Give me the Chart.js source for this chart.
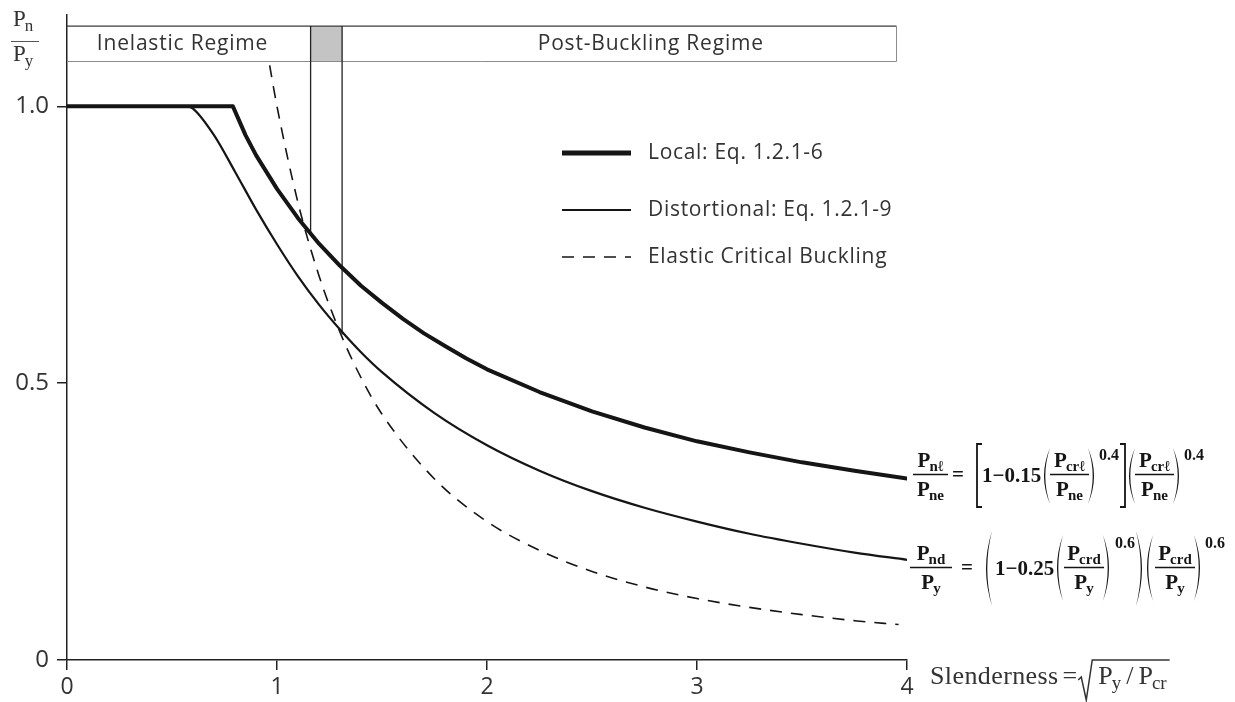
<!DOCTYPE html>
<html>
<head>
<meta charset="utf-8">
<script src="https://cdn.jsdelivr.net/npm/chart.js@4"></script>
<style>
  html, body { margin: 0; padding: 0; background: #fff; }
  #wrap { width: 1235px; height: 702px; }
</style>
</head>
<body>
<div id="wrap"><canvas id="chart" width="1235" height="702"></canvas></div>
<script>
// slenderness (x) and normalised strength Pn/Py (y)
const localX = [0, 0.79, 0.85, 0.9, 1.0, 1.1, 1.2, 1.3, 1.4, 1.5, 1.6, 1.7, 1.8, 1.9, 2.0, 2.25, 2.5, 2.75, 3.0, 3.25, 3.5, 3.75, 4.0];
const localY = [1.0, 1.0, 0.948, 0.912, 0.851, 0.798, 0.752, 0.712, 0.676, 0.645, 0.616, 0.590, 0.567, 0.545, 0.525, 0.484, 0.449, 0.420, 0.395, 0.375, 0.357, 0.342, 0.328];

const distX = [0, 0.57, 0.6, 0.7, 0.8, 0.9, 1.0, 1.1, 1.2, 1.3, 1.4, 1.5, 1.75, 2.0, 2.25, 2.5, 2.75, 3.0, 3.25, 3.5, 3.75, 4.0];
const distY = [1.0, 1.0, 0.996, 0.948, 0.882, 0.814, 0.751, 0.693, 0.642, 0.597, 0.556, 0.520, 0.446, 0.388, 0.342, 0.305, 0.275, 0.250, 0.228, 0.210, 0.194, 0.181];

const elasticX = [0.965, 1.0, 1.1, 1.2, 1.3, 1.4, 1.5, 1.75, 2.0, 2.25, 2.5, 2.75, 3.0, 3.25, 3.5, 3.75, 3.96];
const elasticY = [1.074, 1.0, 0.826, 0.694, 0.592, 0.510, 0.444, 0.327, 0.250, 0.198, 0.160, 0.132, 0.111, 0.095, 0.082, 0.071, 0.064];

// regime band across the top and the shaded transition zone
const regimeBandY = [1.081, 1.145];
const regimeBandEndX = 3.95;
const transitionX = [1.16, 1.31];
const transitionEndY = [0.768, 0.588];
const regimeLabels = ['Inelastic Regime', 'Post-Buckling Regime'];
const regimeLabelX = [0.55, 2.78];

const xTickValues = [0, 1, 2, 3, 4];
const yTickValues = [0, 0.5, 1.0];
const yTickLabels = ['0', '0.5', '1.0'];

const seriesLabels = ['Local: Eq. 1.2.1-6', 'Distortional: Eq. 1.2.1-9', 'Elastic Critical Buckling'];

const SANS = '"Open Sans", "Liberation Sans", sans-serif';
const SERIF = '"Liberation Serif", "DejaVu Serif", serif';
const INK = '#151515';
const TEXT = '#333333';

const pts = (xs, ys) => xs.map((x, i) => ({ x, y: ys[i] }));

// ---------- small text/maths helpers ----------
function pSub(ctx, x, base, sub, size, subSize, weight) {
  ctx.font = `${weight} ${size}px ${SERIF}`;
  ctx.fillText('P', x, base);
  const wp = ctx.measureText('P').width;
  ctx.font = `${weight} ${subSize}px ${SERIF}`;
  ctx.fillText(sub, x + wp - 1, base + size * 0.2);
  return wp - 1 + ctx.measureText(sub).width;
}

function pSubWidth(ctx, sub, size, subSize, weight) {
  ctx.font = `${weight} ${size}px ${SERIF}`;
  const wp = ctx.measureText('P').width;
  ctx.font = `${weight} ${subSize}px ${SERIF}`;
  return wp - 1 + ctx.measureText(sub).width;
}

function fraction(ctx, x0, x1, barY, numSub, denSub) {
  const cx = (x0 + x1) / 2;
  const wn = pSubWidth(ctx, numSub, 21, 15, 'bold');
  const wd = pSubWidth(ctx, denSub, 21, 15, 'bold');
  pSub(ctx, cx - wn / 2, barY - 7, numSub, 21, 15, 'bold');
  pSub(ctx, cx - wd / 2, barY + 22, denSub, 21, 15, 'bold');
  ctx.save();
  ctx.lineWidth = 1.4;
  ctx.beginPath();
  ctx.moveTo(x0, barY + 0.5);
  ctx.lineTo(x1, barY + 0.5);
  ctx.stroke();
  ctx.restore();
}

// curved parenthesis, dir = 1 opens right "(", dir = -1 closes ")"
function paren(ctx, x, top, bot, dir) {
  const w = 6, mid = (top + bot) / 2;
  ctx.beginPath();
  ctx.moveTo(x + dir * w, top);
  ctx.quadraticCurveTo(x - dir * w, mid, x + dir * w, bot);
  ctx.quadraticCurveTo(x - dir * (w - 2.6), mid, x + dir * w, top);
  ctx.fill();
}

function bracket(ctx, x, top, bot, dir) {
  ctx.save();
  ctx.lineWidth = 1.8;
  ctx.beginPath();
  ctx.moveTo(x + dir * 5, top);
  ctx.lineTo(x, top);
  ctx.lineTo(x, bot);
  ctx.lineTo(x + dir * 5, bot);
  ctx.stroke();
  ctx.restore();
}

function superscript(ctx, s, x, base) {
  ctx.font = `bold 16px ${SERIF}`;
  ctx.fillText(s, x, base);
}

function plainText(ctx, s, x, base, font) {
  ctx.font = font;
  ctx.fillText(s, x, base);
  return ctx.measureText(s).width;
}

// ---------- decorations drawn around the plot ----------
const figureDecor = {
  id: 'figureDecor',
  beforeDatasetsDraw(chart) {
    const { ctx, scales: { x, y } } = chart;
    const xl = x.getPixelForValue(0), xr = x.getPixelForValue(regimeBandEndX);
    const yb = y.getPixelForValue(regimeBandY[0]), yt = y.getPixelForValue(regimeBandY[1]);
    const g0 = x.getPixelForValue(transitionX[0]), g1 = x.getPixelForValue(transitionX[1]);
    ctx.save();
    ctx.fillStyle = '#c4c4c4';
    ctx.fillRect(g0, yt, g1 - g0, yb - yt);
    ctx.lineWidth = 1.3;
    ctx.strokeStyle = '#3a3a3a';
    ctx.beginPath();
    ctx.moveTo(xl, yt); ctx.lineTo(xr, yt);
    ctx.stroke();
    ctx.strokeStyle = '#8c8c8c';
    ctx.lineWidth = 1;
    ctx.beginPath();
    ctx.moveTo(xl, yb); ctx.lineTo(xr, yb);
    ctx.moveTo(xr, yt); ctx.lineTo(xr, yb);
    ctx.stroke();

    ctx.fillStyle = TEXT;
    ctx.font = `21px ${SANS}`;
    ctx.letterSpacing = '0.8px';
    ctx.textAlign = 'center';
    ctx.textBaseline = 'middle';
    regimeLabels.forEach((t, i) => ctx.fillText(t, x.getPixelForValue(regimeLabelX[i]), (yt + yb) / 2));
    ctx.letterSpacing = '0px';
    ctx.restore();
  },
  afterDraw(chart) {
    const { ctx } = chart;
    const ds = chart.data.datasets;
    ctx.save();

    // legend
    const legendY = [153, 210, 257];
    ctx.strokeStyle = INK;
    legendY.forEach((ly, i) => {
      ctx.lineWidth = ds[i].borderWidth + (i === 0 ? 1 : 0);
      ctx.setLineDash(ds[i].borderDash || []);
      ctx.beginPath();
      ctx.moveTo(562, ly);
      ctx.lineTo(631, ly);
      ctx.stroke();
    });
    ctx.setLineDash([]);
    ctx.fillStyle = TEXT;
    ctx.font = `21px ${SANS}`;
    ctx.letterSpacing = '0.7px';
    ctx.textBaseline = 'middle';
    seriesLabels.forEach((t, i) => ctx.fillText(t, 648, legendY[i]));
    ctx.letterSpacing = '0px';

    // y-axis title Pn / Py
    ctx.textBaseline = 'alphabetic';
    ctx.fillStyle = TEXT;
    pSub(ctx, 13, 26, 'n', 23, 17, 'normal');
    pSub(ctx, 13, 61, 'y', 23, 17, 'normal');
    ctx.strokeStyle = '#555';
    ctx.lineWidth = 1;
    ctx.beginPath();
    ctx.moveTo(11, 41.5); ctx.lineTo(39, 41.5);
    ctx.stroke();

    // x-axis title: Slenderness = sqrt(Py / Pcr)
    ctx.fillStyle = TEXT;
    ctx.strokeStyle = TEXT;
    let sx = 930;
    const sb = 684;
    ctx.letterSpacing = '0.4px';
    sx += plainText(ctx, 'Slenderness', sx, sb, `26px ${SERIF}`) + 4;
    ctx.letterSpacing = '0px';
    sx += plainText(ctx, '=', sx, sb, `26px ${SERIF}`) + 1;
    ctx.lineWidth = 1.5;
    ctx.beginPath();
    ctx.moveTo(sx, 680);
    ctx.lineTo(sx + 3, 677);
    ctx.lineTo(sx + 8, 700);
    ctx.lineTo(sx + 14, 660);
    sx += 20;
    sx += pSub(ctx, sx, sb, 'y', 26, 19, 'normal') + 5;
    sx += plainText(ctx, '/', sx, sb, `26px ${SERIF}`) + 5;
    sx += pSub(ctx, sx, sb, 'cr', 26, 19, 'normal');
    ctx.lineTo(sx + 3, 660);
    ctx.stroke();

    // local buckling strength expression
    ctx.fillStyle = INK;
    ctx.strokeStyle = INK;
    let bar = 474;
    const b1 = bar - 30, b2 = bar + 33, p1 = bar - 26, p2 = bar + 30;
    fraction(ctx, 913, 948, bar, 'n\u2113', 'ne');
    plainText(ctx, '=', 952, bar + 7, `bold 21px ${SERIF}`);
    bracket(ctx, 977, b1, b2, 1);
    plainText(ctx, '1\u22120.15', 982, bar + 8, `bold 21px ${SERIF}`);
    paren(ctx, 1044, p1, p2, 1);
    fraction(ctx, 1050, 1089, bar, 'cr\u2113', 'ne');
    paren(ctx, 1094, p1, p2, -1);
    superscript(ctx, '0.4', 1099, bar - 14);
    bracket(ctx, 1125, b1, b2, -1);
    paren(ctx, 1129, p1, p2, 1);
    fraction(ctx, 1135, 1174, bar, 'cr\u2113', 'ne');
    paren(ctx, 1179, p1, p2, -1);
    superscript(ctx, '0.4', 1184, bar - 14);

    // distortional buckling strength expression
    bar = 567;
    fraction(ctx, 910, 952, bar, 'nd', 'y');
    plainText(ctx, '=', 961, bar + 7, `bold 21px ${SERIF}`);
    paren(ctx, 986, 531, 606, 1);
    plainText(ctx, '1\u22120.25', 995, bar + 8, `bold 21px ${SERIF}`);
    paren(ctx, 1057, 535, 601, 1);
    fraction(ctx, 1064, 1104, bar, 'crd', 'y');
    paren(ctx, 1109, 535, 601, -1);
    superscript(ctx, '0.6', 1115, 548);
    paren(ctx, 1142, 531, 606, -1);
    paren(ctx, 1147, 535, 601, 1);
    fraction(ctx, 1155, 1195, bar, 'crd', 'y');
    paren(ctx, 1200, 535, 601, -1);
    superscript(ctx, '0.6', 1205, 548);

    ctx.restore();
  }
};

const axisStyle = {
  grid: { drawOnChartArea: false, drawTicks: true, tickLength: 10, color: '#222', lineWidth: 1.5 },
  border: { display: true, color: '#222', width: 1.5 }
};

new Chart(document.getElementById('chart'), {
  type: 'scatter',
  data: {
    datasets: [
      {
        label: seriesLabels[0],
        data: pts(localX, localY),
        showLine: true, borderColor: INK, borderWidth: 4, tension: 0,
        pointRadius: 0, borderCapStyle: 'round', borderJoinStyle: 'round'
      },
      {
        label: seriesLabels[1],
        data: pts(distX, distY),
        showLine: true, borderColor: INK, borderWidth: 2.2, cubicInterpolationMode: 'monotone',
        pointRadius: 0
      },
      {
        label: seriesLabels[2],
        data: pts(elasticX, elasticY),
        showLine: true, borderColor: INK, borderWidth: 1.6, borderDash: [12, 9], cubicInterpolationMode: 'monotone',
        pointRadius: 0
      },
      {
        label: 'transition-left',
        data: [{ x: transitionX[0], y: regimeBandY[1] }, { x: transitionX[0], y: transitionEndY[0] }],
        showLine: true, borderColor: '#222', borderWidth: 1.3, pointRadius: 0
      },
      {
        label: 'transition-right',
        data: [{ x: transitionX[1], y: regimeBandY[1] }, { x: transitionX[1], y: transitionEndY[1] }],
        showLine: true, borderColor: '#222', borderWidth: 1.3, pointRadius: 0
      }
    ]
  },
  options: {
    responsive: false,
    devicePixelRatio: 1,
    animation: false,
    layout: { padding: { top: 15, right: 328, left: 0, bottom: 0 } },
    plugins: { legend: { display: false }, tooltip: { enabled: false } },
    scales: {
      x: {
        type: 'linear', min: 0, max: 4,
        afterFit: s => { s.height = 42; s.paddingLeft = 0; s.paddingRight = 0; },
        afterBuildTicks: s => { s.ticks = xTickValues.map(v => ({ value: v })); },
        ticks: { autoSkip: false, padding: 4, color: TEXT, font: { family: SANS, size: 23 }, callback: v => String(v) },
        ...axisStyle
      },
      y: {
        type: 'linear', min: 0, max: 1.165,
        afterFit: s => { s.width = 67; s.paddingTop = 0; s.paddingBottom = 0; },
        afterBuildTicks: s => { s.ticks = yTickValues.map(v => ({ value: v })); },
        ticks: {
          autoSkip: false, padding: 8, color: TEXT, font: { family: SANS, size: 24 },
          callback: v => yTickLabels[yTickValues.indexOf(v)]
        },
        ...axisStyle
      }
    }
  },
  plugins: [figureDecor]
});
</script>
</body>
</html>
